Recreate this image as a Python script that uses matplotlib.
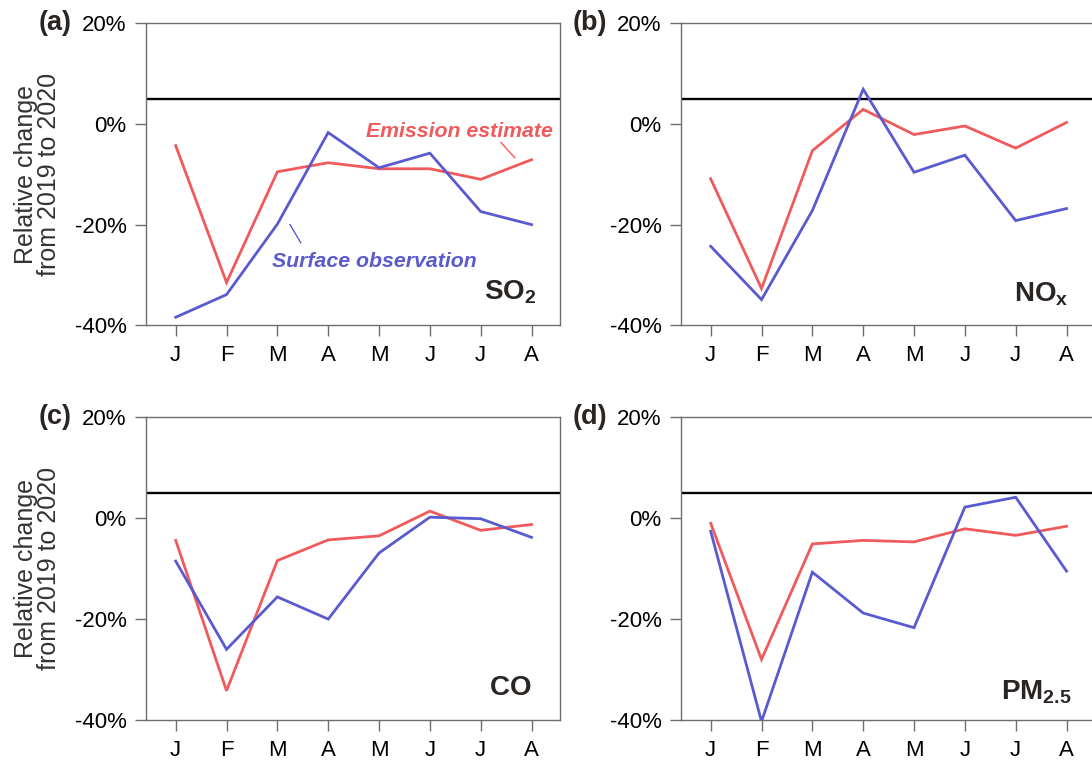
import matplotlib
matplotlib.use("Agg")
import matplotlib.pyplot as plt

plt.rcParams['font.family'] = ['Liberation Sans', 'DejaVu Sans']
plt.rcParams['mathtext.fontset'] = 'custom'
plt.rcParams['mathtext.rm'] = 'Liberation Sans'
plt.rcParams['mathtext.bf'] = 'Liberation Sans:bold'
plt.rcParams['mathtext.it'] = 'Liberation Sans:italic'

months = ['J', 'F', 'M', 'A', 'M', 'J', 'J', 'A']
ref_level = 5

so2_emis = [-4.3, -31.5, -9.5, -7.7, -8.9, -8.9, -11.0, -7.1]
so2_obs = [-38.4, -33.9, -19.9, -1.7, -8.7, -5.8, -17.4, -20.0]
nox_emis = [-10.9, -32.7, -5.3, 2.9, -2.1, -0.4, -4.8, 0.3]
nox_obs = [-24.3, -34.9, -17.2, 6.9, -9.6, -6.2, -19.2, -16.8]
co_emis = [-4.4, -34.2, -8.4, -4.3, -3.5, 1.4, -2.4, -1.25]
co_obs = [-8.5, -26.0, -15.6, -20.0, -6.9, 0.2, -0.1, -3.8]
pm_emis = [-1.0, -28.0, -5.1, -4.4, -4.7, -2.1, -3.4, -1.6]
pm_obs = [-2.6, -40.3, -10.7, -18.8, -21.7, 2.2, 4.15, -10.5]

panels = [
    ('(a)', r'$\mathbf{SO_2}$', so2_emis, so2_obs, (7.1, -34.8)),
    ('(b)', r'$\mathbf{NO_x}$', nox_emis, nox_obs, (7.05, -35.3)),
    ('(c)', r'$\mathbf{CO}$', co_emis, co_obs, (7.0, -35.0)),
    ('(d)', r'$\mathbf{PM_{2.5}}$', pm_emis, pm_obs, (7.1, -36.0)),
]

RED = '#F05A5C'
BLUE = '#5A5AD0'
SPINE = '#6E6E6E'
DARK = '#2a2522'

W, H = 1092, 763
fig = plt.figure(figsize=(W / 100, H / 100), dpi=100)

# axes boxes in pixels: left, top, width, height
boxes = [(145.7, 23.3, 414.3, 302), (680.7, 23.3, 414.3, 302),
         (145.7, 417.3, 414.3, 302.7), (680.7, 417.3, 414.3, 302.7)]

for i, ((lab, comp, emis, obs, cpos), (l, t, w, h)) in enumerate(zip(panels, boxes)):
    ax = fig.add_axes([l / W, (H - t - h) / H, w / W, h / H])
    x = list(range(len(months)))
    ax.plot(x, emis, color=RED, lw=2.0, solid_joinstyle='miter', zorder=3)
    ax.plot(x, obs, color=BLUE, lw=2.0, solid_joinstyle='miter', zorder=3)
    ax.axhline(ref_level, color='black', lw=1.7, zorder=2)
    ax.set_xlim(-0.59, 7.56)
    ax.set_ylim(-40, 20)
    ax.set_yticks([-40, -20, 0, 20])
    ax.set_yticklabels(['-40%', '-20%', '0%', '20%'])
    ax.set_xticks(x)
    ax.set_xticklabels(months)
    for s in ax.spines.values():
        s.set_color(SPINE)
        s.set_linewidth(1.0)
    ax.tick_params(axis='both', direction='out', color=SPINE, width=1.0,
                   length=7.8, labelsize=16, labelcolor='black')
    ax.tick_params(axis='x', pad=6.5)
    ax.tick_params(axis='y', pad=6.0)
    ax.text(-0.178, 1.0, lab, transform=ax.transAxes, fontsize=19.5,
            fontweight='bold', color=DARK, ha='right', va='center')
    ax.text(cpos[0], cpos[1], comp, fontsize=20, color=DARK,
            ha='right', va='baseline')
    if i % 2 == 0:
        ax.set_ylabel('Relative change\nfrom 2019 to 2020', fontsize=18,
                      color='#333333', linespacing=0.92)
        ax.yaxis.set_label_coords(-0.205, 0.5)
    if i == 0:
        ax.text(5.58, -2.5, 'Emission estimate', color=RED, fontsize=15.3,
                fontweight='bold', style='italic', ha='center', va='baseline')
        ax.plot([6.40, 6.67], [-3.7, -6.7], color=RED, lw=1.0)
        ax.text(3.905, -28.35, 'Surface observation', color=BLUE, fontsize=15.3,
                fontweight='bold', style='italic', ha='center', va='baseline')
        ax.plot([2.25, 2.46], [-20.0, -23.6], color=BLUE, lw=1.0)

fig.savefig('out.png', dpi=100)
